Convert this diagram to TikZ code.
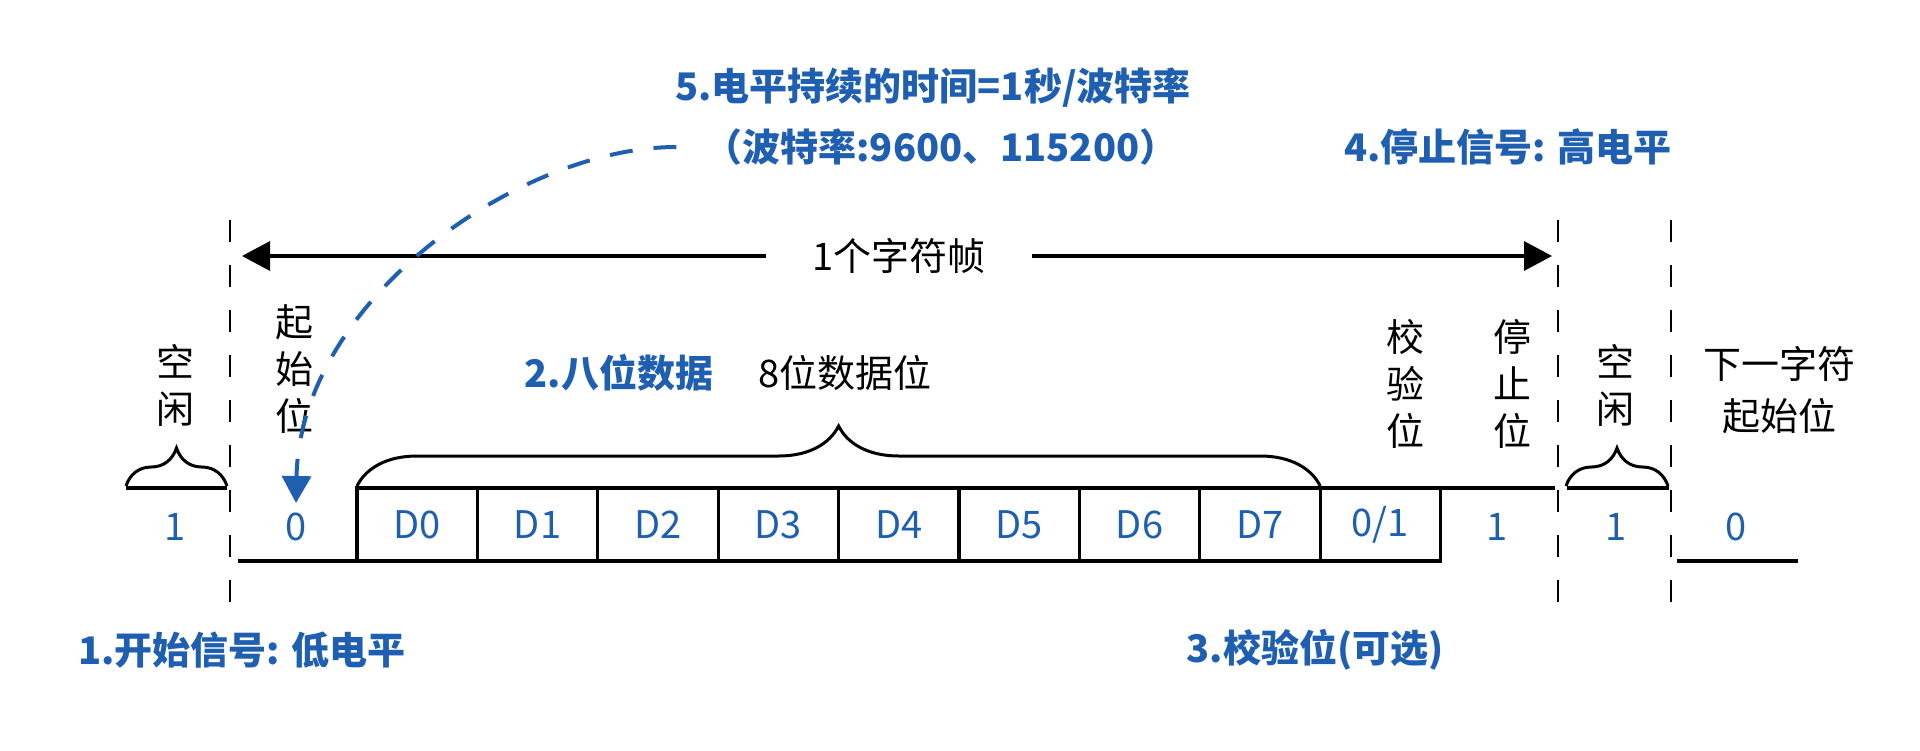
\documentclass[tikz,border=0pt]{standalone}
\usepackage{fontspec}
\setmainfont{Noto Sans CJK SC}
\definecolor{UBlue}{HTML}{1F5FB2}
\usetikzlibrary{positioning,arrows.meta,decorations.pathreplacing}

\tikzset{
  lbl/.style={font=\fontsize{38}{47}\selectfont, inner sep=0pt, align=center},
  bit/.style={lbl, text=UBlue},
  note/.style={lbl, text=UBlue, font=\fontsize{38}{47}\selectfont\bfseries},
  cell/.style={bit, draw=black, line width=3.3pt, minimum width=120.4pt, minimum height=73pt, outer sep=0pt},
  wave/.style={line width=3.3pt},
  sep/.style={line width=2.8pt, dash pattern=on 22pt off 23pt},
  curly/.style={decorate, decoration={brace, amplitude=#1}, line width=3pt},
}

\begin{document}
\begin{tikzpicture}[x=1pt, y=-1pt]
  \useasboundingbox (0,0) rectangle (1920,750);

  % separators
  \draw[sep] (230,220) -- (230,607);
  \draw[sep] (1558,220) -- (1558,607);
  \draw[sep] (1671,220) -- (1671,607);

  % one frame
  \node[lbl, inner xsep=46pt] (frame) at (899,256) {1个字符帧};
  \coordinate (fl) at (242,256);
  \coordinate (fr) at (1552,256);
  \draw[wave, -{Triangle[width=29pt,length=28pt]}] (frame.west) -- (fl);
  \draw[wave, -{Triangle[width=29pt,length=28pt]}] (frame.east) -- (fr);

  % data bits
  \node[cell] (d0) at (417.2,524.5) {D0};
  \node[cell, right=0pt of d0] (d1) {D1};
  \node[cell, right=0pt of d1] (d2) {D2};
  \node[cell, right=0pt of d2] (d3) {D3};
  \node[cell, right=0pt of d3] (d4) {D4};
  \node[cell, right=0pt of d4] (d5) {D5};
  \node[cell, right=0pt of d5] (d6) {D6};
  \node[cell, right=0pt of d6] (d7) {D7};
  \node[cell, right=0pt of d7] (par) {0/1};

  % levels
  \draw[wave] (126,488) -- (227,488);
  \draw[wave] (238,561) -- (d0.south west);
  \draw[wave] (par.north east) -- (1555,488);
  \draw[wave] (1567,488) -- (1669,488);
  \draw[wave] (1677,561) -- (1798,561);

  % braces
  \draw[curly=38pt] (126,486) -- (227,486);
  \draw[curly=60pt] ([yshift=2pt]d0.north west) -- ([yshift=2pt]d7.north east);
  \draw[curly=38pt] (1566,486) -- (1668,486);

  % bit values
  \node[bit] (i1) at (175,527) {1};
  \node[bit] (s0) at (296,527) {0};
  \node[bit] (p1) at (1497,527) {1};
  \node[bit] (i2) at (1616,527) {1};
  \node[bit] (n0) at (1736,527) {0};

  % field names
  \node[lbl] (idle1) at (175,385) {空\\闲};
  \node[lbl] (start) at (294,369) {起\\始\\位};
  \node[lbl] (data) at (845,373) {8位数据位};
  \node[lbl] (parity) at (1405,384) {校\\验\\位};
  \node[lbl] (stop) at (1512,384) {停\\止\\位};
  \node[lbl] (idle2) at (1615,385) {空\\闲};
  \node[lbl, font=\fontsize{38}{52}\selectfont] (next) at (1779,390) {下一字符\\起始位};

  % notes
  \node[note] (n1) at (242,650) {1.开始信号: 低电平};
  \node[note] (n2) at (619,373) {2.八位数据};
  \node[note] (n3) at (1315,650) {3.校验位(可选)};
  \node[note] (n4) at (1508,147) {4.停止信号: 高电平};
  \node[note] (n5) at (933,88) {5.电平持续的时间=1秒/波特率};
  \node[note, inner xsep=28pt] (rate) at (941,147) {（波特率:9600、115200）};

  \coordinate (tip) at (296,503);
  \draw[UBlue, line width=4pt, dash pattern=on 23pt off 21pt, -{Triangle[width=29pt,length=27pt]}]
    (rate.west) .. controls (520,147) and (300,300) .. (tip);
\end{tikzpicture}
\end{document}
